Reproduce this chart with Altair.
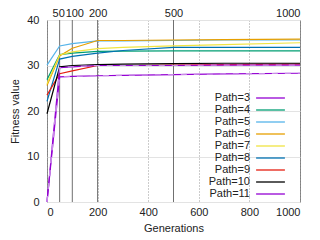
import altair as alt
import pandas as pd

generations = [0, 50, 100, 200, 300, 500, 700, 1000]
paths = ["Path=3", "Path=4", "Path=5", "Path=6", "Path=7",
         "Path=8", "Path=9", "Path=10", "Path=11"]
colors = ["#9400d3", "#009e73", "#56b4e9", "#e69f00", "#f0e442",
          "#0072b2", "#e51e10", "#000000", "#9400d3"]
fitness = {
    "Path=3":  [0.0, 27.5, 27.6, 27.75, 27.85, 28.0, 28.15, 28.3],
    "Path=4":  [26.9, 32.4, 32.7, 33.1, 33.15, 33.2, 33.2, 33.2],
    "Path=5":  [30.1, 34.3, 34.8, 35.4, 35.4, 35.5, 35.6, 35.6],
    "Path=6":  [25.6, 32.1, 33.8, 35.5, 35.5, 35.6, 35.7, 35.8],
    "Path=7":  [26.0, 32.3, 33.0, 33.7, 34.0, 34.3, 34.6, 35.0],
    "Path=8":  [22.1, 31.4, 32.0, 32.7, 33.3, 34.0, 34.0, 34.0],
    "Path=9":  [23.5, 28.2, 28.8, 30.0, 30.0, 30.1, 30.2, 30.3],
    "Path=10": [19.4, 29.7, 30.0, 30.2, 30.3, 30.4, 30.5, 30.5],
    "Path=11": [0.0, 29.5, 29.7, 30.0, 30.0, 30.0, 30.1, 30.1],
}
overlay_paths = ["Path=3", "Path=11"]
top_marks = [50, 100, 200, 500]
top_ticks = [50, 100, 200, 500, 1000]
bottom_ticks = [0, 200, 400, 600, 800, 1000]
y_ticks = [i * 2.5 for i in range(17)]

rows = []
for p in paths:
    for g, v in zip(generations, fitness[p]):
        rows.append({"gen": g, "fit": v, "path": p})
df = pd.DataFrame(rows)
df_over = df[df["path"].isin(overlay_paths)]
df_top = pd.DataFrame({"gen": top_marks})

FONT = "Liberation Sans"
xscale = alt.Scale(domain=[0, 1000], nice=False, zero=False)
yscale = alt.Scale(domain=[0, 40], nice=False)

rules = alt.Chart(df_top).mark_rule(color="#707070", strokeWidth=1).encode(
    x=alt.X("gen:Q", scale=xscale,
            axis=alt.Axis(orient="top", values=top_ticks, grid=False, ticks=False,
                          domain=False, labelPadding=2, title=None, format="d",
                          labelOverlap=False,
                          labelOffset={"condition": [
                              {"test": "datum.value == 50", "value": -1.5},
                              {"test": "datum.value == 100", "value": 2},
                          ], "value": 0}))
)

lines = alt.Chart(df).mark_line(strokeWidth=1.2).encode(
    x=alt.X("gen:Q", scale=xscale,
            axis=alt.Axis(orient="bottom", values=bottom_ticks, grid=True,
                          gridDash=[1, 2], gridColor="#999999", ticks=False,
                          domain=False, labelPadding=4, title="Generations",
                          titlePadding=5, format="d", labelOverlap=False)),
    y=alt.Y("fit:Q", scale=yscale,
            axis=alt.Axis(values=y_ticks, grid=True, gridColor="#e3e3e3",
                          labelExpr="datum.value % 5 == 0 ? datum.label : ''",
                          ticks=False, domain=False, labelPadding=8,
                          labelOverlap=False,
                          title="Fitness value", titlePadding=6)),
    color=alt.Color("path:N", scale=alt.Scale(domain=paths, range=colors),
                    legend=alt.Legend(title=None, orient="none", legendX=216.5,
                                      legendY=71, symbolType="M-2.4,0H2.4",
                                      symbolSize=144, symbolStrokeWidth=1.3,
                                      labelAlign="right",
                                      labelOffset={"expr": "-27.5"},
                                      labelFontSize=11, labelFont=FONT,
                                      labelColor="#222222",
                                      rowPadding=0, labelLimit=100)),
    order=alt.Order("gen:Q"),
)

overlay = alt.Chart(df_over).mark_line(strokeWidth=1.2, color="#c98be8",
                                       strokeDash=[6, 7]).encode(
    x=alt.X("gen:Q", scale=xscale, axis=None),
    y=alt.Y("fit:Q", scale=yscale),
    detail="path:N",
)

chart = alt.layer(rules, lines, overlay).resolve_axis(x="independent").properties(
    width=253, height=182,
    autosize=alt.AutoSizeParams(type="none"),
    padding={"left": 39, "top": 12, "right": 12, "bottom": 30},
).configure_view(stroke="#808080", strokeWidth=1).configure_axis(
    labelFont=FONT, titleFont=FONT, labelFontSize=11, titleFontSize=11,
    labelColor="#222222", titleColor="#222222", titleFontWeight="normal",
)

chart.save("out.html", embed_options={"renderer": "svg", "actions": False})
